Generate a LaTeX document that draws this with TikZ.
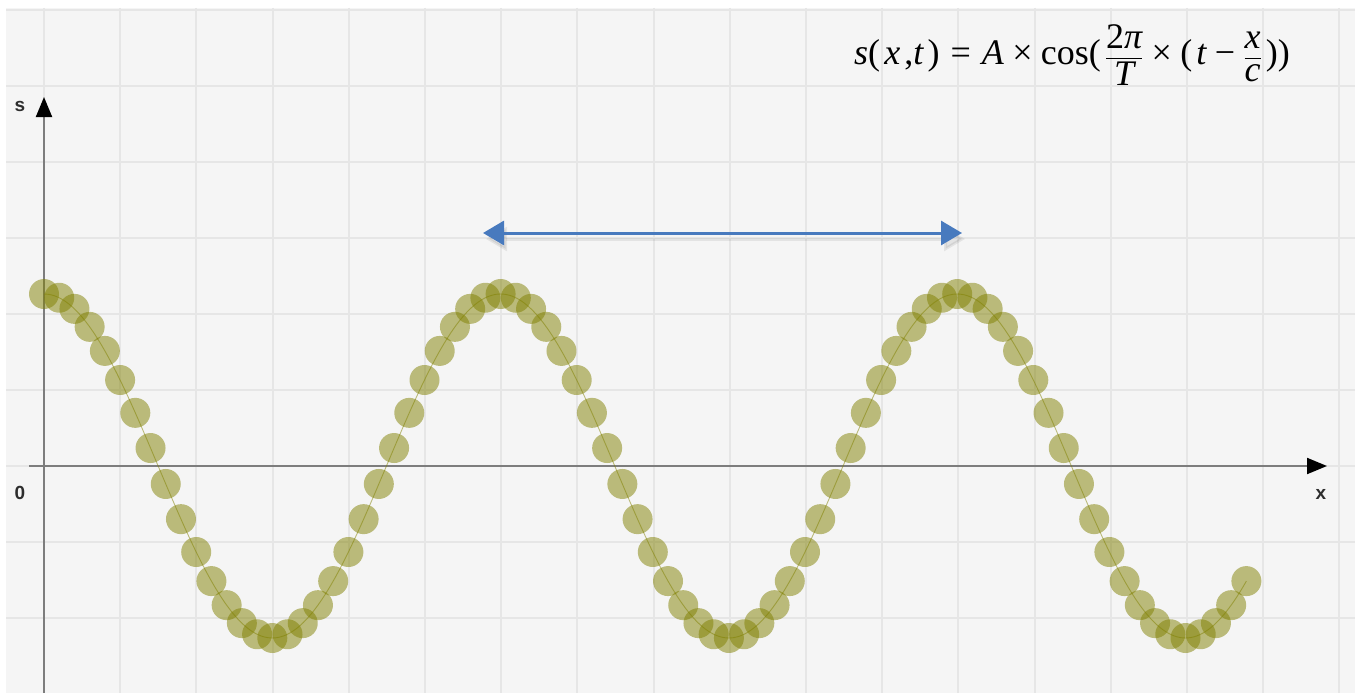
\documentclass[tikz,border=0pt]{standalone}
\usepackage{amsmath}
\usepackage{fontspec}
\setmainfont{Liberation Serif}
\setsansfont{Liberation Sans}
\usetikzlibrary{arrows.meta}
\definecolor{bgc}{RGB}{245,245,245}
\definecolor{gridc}{RGB}{230,230,230}
\definecolor{axisc}{RGB}{125,125,125}
\definecolor{dotc}{RGB}{128,128,0}
\definecolor{bluec}{RGB}{72,122,190}
\definecolor{labc}{RGB}{45,45,45}
\newcommand{\vi}[1]{\mbox{\itshape #1}}
\newcommand{\vr}[1]{\mbox{#1}}
\begin{document}
\begin{tikzpicture}[x=1pt,y=-1pt,
  gridline/.style={draw=gridc,line width=2pt},
  axisline/.style={draw=axisc,line width=2pt,-{Triangle[length=20pt,width=16pt,fill=black,color=black]}},
  lab/.style={font=\sffamily\bfseries\fontsize{19}{22}\selectfont,text=labc,inner sep=0pt},
  dotfill/.style={fill=dotc,fill opacity=0.5},
  wave/.style={draw=dotc,draw opacity=0.5,line width=0.9pt},
  periodarrow/.style={draw=bluec,line width=3pt,{Triangle[length=21pt,width=24pt]}-{Triangle[length=21pt,width=24pt]}},
  shadowarrow/.style={draw=black,opacity=0.07,line width=3pt,{Triangle[length=21pt,width=24pt]}-{Triangle[length=21pt,width=24pt]}},
  formula/.style={font=\fontsize{36}{43}\selectfont,inner sep=0pt}
]
\useasboundingbox (0,0) rectangle (1355,693);
\fill[white] (0,0) rectangle (1355,693);
\fill[bgc] (6,8) rectangle (1355,693);
% grid
\foreach \k in {0,...,17} \draw[gridline] ({44+76.2*\k},8) -- ({44+76.2*\k},693);
\foreach \k in {-6,...,2} \draw[gridline] (6,{466+76*\k}) -- (1355,{466+76*\k});
% axes
\coordinate (xs) at (29,466);
\coordinate (xe) at (1327,466);
\coordinate (ys) at (44,693);
\coordinate (ye) at (44,97);
\draw[axisline] (xs) -- (xe);
\draw[axisline] (ys) -- (ye);
\node[lab] (slab) at (20,106) {s};
\node[lab] (zlab) at (20,493) {0};
\node[lab] (xlab) at (1321,494) {x};
% wave dots
\foreach \i in {0,...,79} \fill[dotfill] ({44+\i*15.22},{466-172*cos(12*\i)}) circle (15);
\draw[wave] plot[domain=0:79,samples=240,smooth] ({44+\x*15.22},{466-172*cos(12*\x)});
% period arrow
\coordinate (bl) at (483,233);
\coordinate (br) at (962,233);
\coordinate (sbl) at (486,239);
\coordinate (sbr) at (965,239);
\draw[shadowarrow] (sbl) -- (sbr);
\draw[periodarrow] (bl) -- (br);
% formula
\node[formula] (form) at (1072,55) {\medmuskip=6mu\thickmuskip=8mu$\vi{s}\vr{(}\,\vi{x}\,\vr{,}\vi{t}\,\vr{)} \mathrel{\vr{=}} \vi{A} \mathbin{\vr{×}} \vr{cos(}\,\dfrac{\vr{2}\vi{π}}{\vi{T}} \mathbin{\vr{×}} \vr{(}\,\vi{t} \mathbin{\vr{−}} \dfrac{\vi{x}}{\vi{c}}\,\vr{))}$};
\end{tikzpicture}
\end{document}
